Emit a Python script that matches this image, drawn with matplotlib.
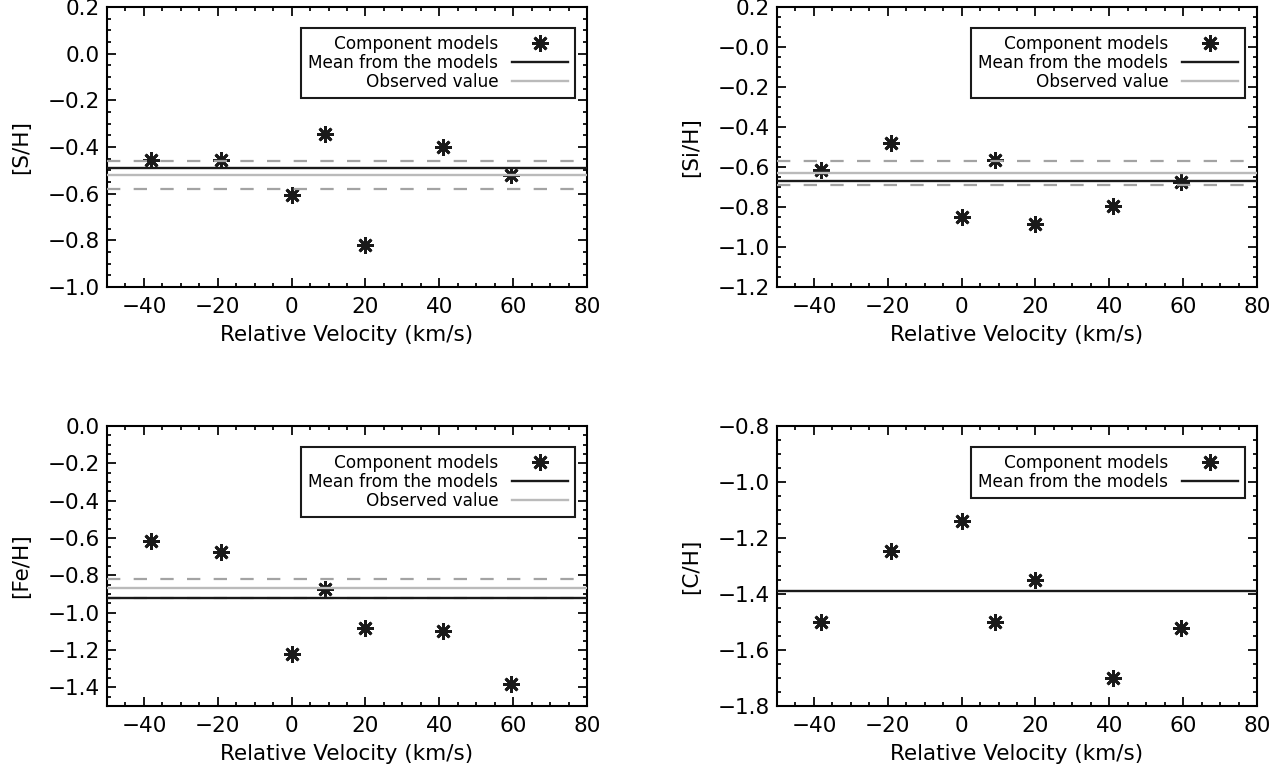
import numpy as np
import matplotlib
matplotlib.use('Agg')
import matplotlib.pyplot as plt
from matplotlib.ticker import MultipleLocator, FixedLocator, FixedFormatter

plt.rcParams['font.family'] = 'DejaVu Sans'
plt.rcParams['font.size'] = 15.5
plt.rcParams['axes.linewidth'] = 1.5

# velocity of each component model (km/s)
velocity = [-38, -19, 0, 9, 20, 41, 59.5]

# abundances of the component models
s_h = [-0.455, -0.455, -0.605, -0.345, -0.82, -0.40, -0.52]
si_h = [-0.615, -0.48, -0.85, -0.565, -0.885, -0.795, -0.675]
fe_h = [-0.615, -0.675, -1.22, -0.875, -1.08, -1.10, -1.38]
c_h = [-1.50, -1.245, -1.14, -1.50, -1.35, -1.70, -1.52]

# mean from the models
mean_s = -0.49
mean_si = -0.67
mean_fe = -0.92
mean_c = -1.39

# observed value and its uncertainty
obs_s, err_s = -0.52, 0.06
obs_si, err_si = -0.63, 0.06
obs_fe, err_fe = -0.87, 0.05

# y-axis ranges and tick labels
ylim_s = (-1.0, 0.2)
ylim_si = (-1.2, 0.2)
ylim_fe = (-1.5, 0.0)
ylim_c = (-1.8, -0.8)

yticks_s = [-1.0, -0.8, -0.6, -0.4, -0.2, 0.0, 0.2]
ylabels_s = ['\u22121.0', '\u22120.8', '\u22120.6', '\u22120.4', '\u22120.2', '0.0', '0.2']
yticks_si = [-1.2, -1.0, -0.8, -0.6, -0.4, -0.2, 0.0, 0.2]
ylabels_si = ['\u22121.2', '\u22121.0', '\u22120.8', '\u22120.6', '\u22120.4', '\u22120.2', '\u22120.0', '0.2']
yticks_fe = [-1.4, -1.2, -1.0, -0.8, -0.6, -0.4, -0.2, 0.0]
ylabels_fe = ['\u22121.4', '\u22121.2', '\u22121.0', '\u22120.8', '\u22120.6', '\u22120.4', '\u22120.2', '0.0']
yticks_c = [-1.8, -1.6, -1.4, -1.2, -1.0, -0.8]
ylabels_c = ['\u22121.8', '\u22121.6', '\u22121.4', '\u22121.2', '\u22121.0', '\u22120.8']

xticks = [-40, -20, 0, 20, 40, 60, 80]
xlabels = ['\u221240', '\u221220', '0', '20', '40', '60', '80']

star = (8, 2, 0)
dash_grey = '#a3a3a3'
obs_grey = '#bababa'
ink = '#1a1a1a'


def panel(ax, values, ylabel, ylim, yticks, yticklabels, mean, obs=None, err=None):
    h_pts, = ax.plot(velocity, values, linestyle='none', marker=star, markersize=12,
                     markeredgewidth=2.0, color=ink, zorder=2)
    handles = [h_pts]
    labels = ['Component models']

    if obs is not None:
        for y in (obs + err, obs - err):
            ax.axhline(y, color=dash_grey, linewidth=1.6, linestyle=(0, (6, 6)), zorder=3)
        h_obs = ax.axhline(obs, color=obs_grey, linewidth=1.7, zorder=3)

    h_mean = ax.axhline(mean, color=ink, linewidth=1.7, zorder=4)
    handles.append(h_mean)
    labels.append('Mean from the models')
    if obs is not None:
        handles.append(h_obs)
        labels.append('Observed value')

    ax.set_xlim(-50, 80)
    ax.set_ylim(*ylim)
    ax.xaxis.set_major_locator(FixedLocator(xticks))
    ax.xaxis.set_major_formatter(FixedFormatter(xlabels))
    ax.xaxis.set_minor_locator(MultipleLocator(5))
    ax.yaxis.set_major_locator(FixedLocator(yticks))
    ax.yaxis.set_major_formatter(FixedFormatter(yticklabels))
    ax.yaxis.set_minor_locator(MultipleLocator(0.05))

    ax.tick_params(which='both', direction='in', top=True, right=True, width=1.4, color=ink)
    ax.tick_params(which='major', length=6.5)
    ax.tick_params(which='minor', length=3.2)
    ax.tick_params(axis='x', pad=7)
    ax.tick_params(axis='y', pad=5)

    ax.set_xlabel('Relative Velocity (km/s)', fontsize=15.5, labelpad=6)
    ax.set_ylabel(ylabel, fontsize=15.5)
    ax.yaxis.set_label_coords(-0.158, 0.5)

    leg = ax.legend(handles, labels, loc='upper right', bbox_to_anchor=(0.975, 0.925),
                    borderaxespad=0, markerfirst=False, numpoints=1, fancybox=False,
                    framealpha=1, edgecolor=ink, fontsize=12.2, handlelength=3.3,
                    handletextpad=0.8, labelspacing=0.05, borderpad=0.42)
    leg.get_frame().set_linewidth(1.5)


fig = plt.figure(figsize=(12.81, 7.73), dpi=100)

w = 480 / 1281
h = 280 / 773
ax1 = fig.add_axes([107 / 1281, 1 - 287 / 773, w, h])
ax2 = fig.add_axes([777 / 1281, 1 - 287 / 773, w, h])
ax3 = fig.add_axes([107 / 1281, 1 - 706 / 773, w, h])
ax4 = fig.add_axes([777 / 1281, 1 - 706 / 773, w, h])

panel(ax1, s_h, '[S/H]', ylim_s, yticks_s, ylabels_s, mean_s, obs_s, err_s)
panel(ax2, si_h, '[Si/H]', ylim_si, yticks_si, ylabels_si, mean_si, obs_si, err_si)
panel(ax3, fe_h, '[Fe/H]', ylim_fe, yticks_fe, ylabels_fe, mean_fe, obs_fe, err_fe)
panel(ax4, c_h, '[C/H]', ylim_c, yticks_c, ylabels_c, mean_c)

fig.savefig('out.png', dpi=100)
plt.close(fig)
